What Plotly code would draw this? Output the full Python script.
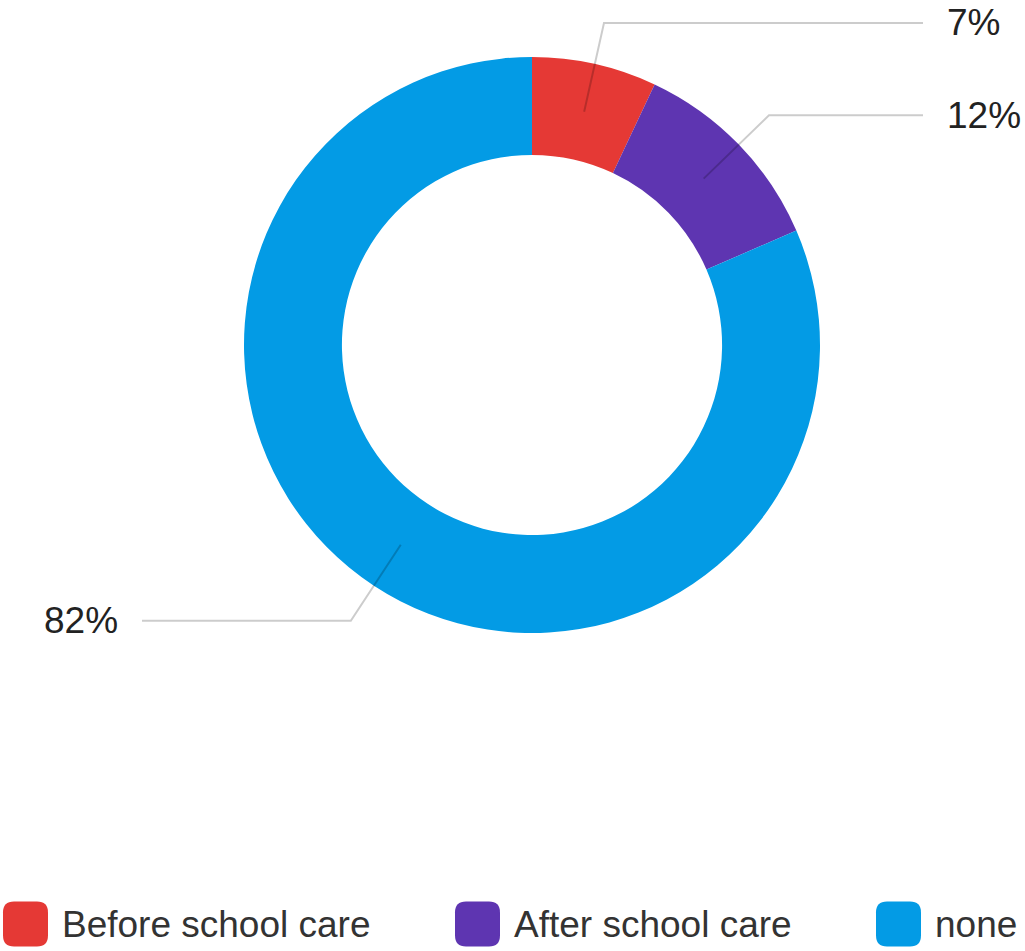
import math
import plotly.graph_objects as go

# ---- data ----
categories = ["Before school care", "After school care", "none"]
values = [7, 11.5, 81.5]
labels_pct = ["7%", "12%", "82%"]
colors = ["#E53935", "#5E35B1", "#039BE5"]

# ---- layout constants (pixels) ----
W, H = 1025, 951
CX, CY, R = 532, 345, 288
HOLE = 0.66
FONT = "Liberation Sans, Arial, sans-serif"


def px(x, y):
    return x / W, 1 - y / H


fig = go.Figure()
fig.add_trace(go.Pie(
    labels=categories,
    values=values,
    marker=dict(colors=colors, line=dict(width=0)),
    hole=HOLE,
    sort=False,
    direction="clockwise",
    rotation=0,
    textinfo="none",
    hoverinfo="label+percent",
    showlegend=False,
    domain=dict(x=[(CX - R) / W, (CX + R) / W], y=[1 - (CY + R) / H, 1 - (CY - R) / H]),
))

shapes = []
annotations = []
total = sum(values)
cum = 0
r_in = (HOLE * R + R) / 2
r_el = 330
for cat, v, lab in zip(categories, values, labels_pct):
    mid = (cum + v / 2) / total * 2 * math.pi
    cum += v
    sx, sy = CX + r_in * math.sin(mid), CY - r_in * math.cos(mid)
    ex, ey = CX + r_el * math.sin(mid), CY - r_el * math.cos(mid)
    right = math.sin(mid) >= 0
    hx = 923 if right else 142
    p1, p2, p3 = px(sx, sy), px(ex, ey), px(hx, ey)
    shapes.append(dict(
        type="path", xref="paper", yref="paper",
        path=f"M {p1[0]} {p1[1]} L {p2[0]} {p2[1]} L {p3[0]} {p3[1]}",
        line=dict(color="rgba(0,0,0,0.2)", width=2),
    ))
    tx = hx + 22 if right else hx - 22
    annotations.append(dict(
        x=px(tx, ey)[0], y=px(tx, ey)[1], xref="paper", yref="paper",
        text=lab, showarrow=False,
        xanchor="left" if right else "right", yanchor="middle",
        font=dict(family=FONT, size=37, color="#222222"),
    ))

# ---- manual legend ----
legend_x = [3, 455, 876]
LY, S, RAD = 924, 45, 11
for cat, col, lx in zip(categories, colors, legend_x):
    x0, y0, x1, y1 = lx, LY - S / 2, lx + S, LY + S / 2
    pts = [
        f"M {px(x0 + RAD, y0)[0]} {px(x0 + RAD, y0)[1]}",
        f"L {px(x1 - RAD, y0)[0]} {px(x1 - RAD, y0)[1]}",
        f"Q {px(x1, y0)[0]} {px(x1, y0)[1]} {px(x1, y0 + RAD)[0]} {px(x1, y0 + RAD)[1]}",
        f"L {px(x1, y1 - RAD)[0]} {px(x1, y1 - RAD)[1]}",
        f"Q {px(x1, y1)[0]} {px(x1, y1)[1]} {px(x1 - RAD, y1)[0]} {px(x1 - RAD, y1)[1]}",
        f"L {px(x0 + RAD, y1)[0]} {px(x0 + RAD, y1)[1]}",
        f"Q {px(x0, y1)[0]} {px(x0, y1)[1]} {px(x0, y1 - RAD)[0]} {px(x0, y1 - RAD)[1]}",
        f"L {px(x0, y0 + RAD)[0]} {px(x0, y0 + RAD)[1]}",
        f"Q {px(x0, y0)[0]} {px(x0, y0)[1]} {px(x0 + RAD, y0)[0]} {px(x0 + RAD, y0)[1]} Z",
    ]
    shapes.append(dict(type="path", xref="paper", yref="paper", path=" ".join(pts),
                       fillcolor=col, line=dict(width=0)))
    annotations.append(dict(
        x=px(lx + S + 12, LY)[0], y=px(lx + S + 12, LY)[1], xref="paper", yref="paper",
        text=cat, showarrow=False, xanchor="left", yanchor="middle",
        font=dict(family=FONT, size=37, color="#333333"),
    ))

fig.update_layout(
    width=W, height=H,
    margin=dict(l=0, r=0, t=0, b=0),
    paper_bgcolor="white", plot_bgcolor="white",
    shapes=shapes, annotations=annotations,
    showlegend=False,
)

fig.write_html(
    "out.html",
    config={"displayModeBar": False},
    post_script="document.body.style.margin='0';document.body.style.overflow='hidden';",
)
